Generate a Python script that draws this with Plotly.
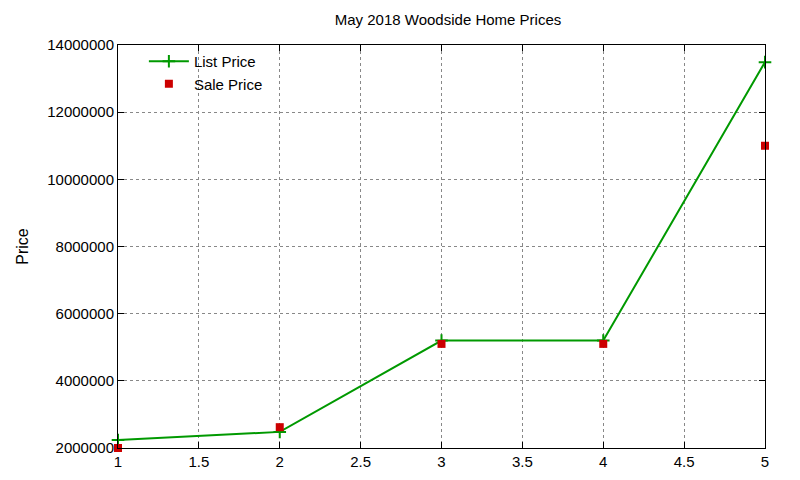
import plotly.graph_objects as go

x_vals = [1, 2, 3, 4, 5]
list_price = [2240000, 2480000, 5200000, 5200000, 13490000]
sale_price = [2000000, 2620000, 5100000, 5100000, 11000000]

fig = go.Figure()
fig.add_trace(go.Scatter(
    x=x_vals, y=list_price, mode='lines+markers', name='List Price',
    line=dict(color='#009900', width=2),
    marker=dict(symbol='cross-thin', size=9, line=dict(color='#009900', width=2)),
    cliponaxis=False
))
fig.add_trace(go.Scatter(
    x=x_vals, y=sale_price, mode='markers', name='Sale Price',
    marker=dict(symbol='square', size=8, color='#cc0000'),
    cliponaxis=False
))

axis_common = dict(
    showgrid=True, gridcolor='#888888', griddash='dot', gridwidth=1,
    showline=True, linecolor='black', linewidth=1, mirror='allticks',
    ticks='inside', ticklen=6, tickcolor='black', zeroline=False,
    tickfont=dict(size=15, color='black'),
)

fig.update_layout(
    width=800, height=480,
    paper_bgcolor='white', plot_bgcolor='white',
    font=dict(family='Liberation Sans, Arial, sans-serif', color='black'),
    title=dict(text='May 2018 Woodside Home Prices', x=0.55, xanchor='center',
               y=0.975, yanchor='middle', font=dict(size=15)),
    margin=dict(l=110, r=43, t=37, b=40),
    xaxis=dict(range=[1, 5], dtick=0.5, **axis_common),
    yaxis=dict(range=[2000000, 14000000], dtick=2000000, tickformat='d',
               title=dict(text='Price', font=dict(size=16), standoff=14),
               **axis_common),
    legend=dict(x=0.04, y=1.0, xanchor='left', yanchor='top',
                bgcolor='rgba(0,0,0,0)', font=dict(size=15),
                tracegroupgap=0, itemwidth=40),
    showlegend=True,
)

fig.write_html("out.html")
